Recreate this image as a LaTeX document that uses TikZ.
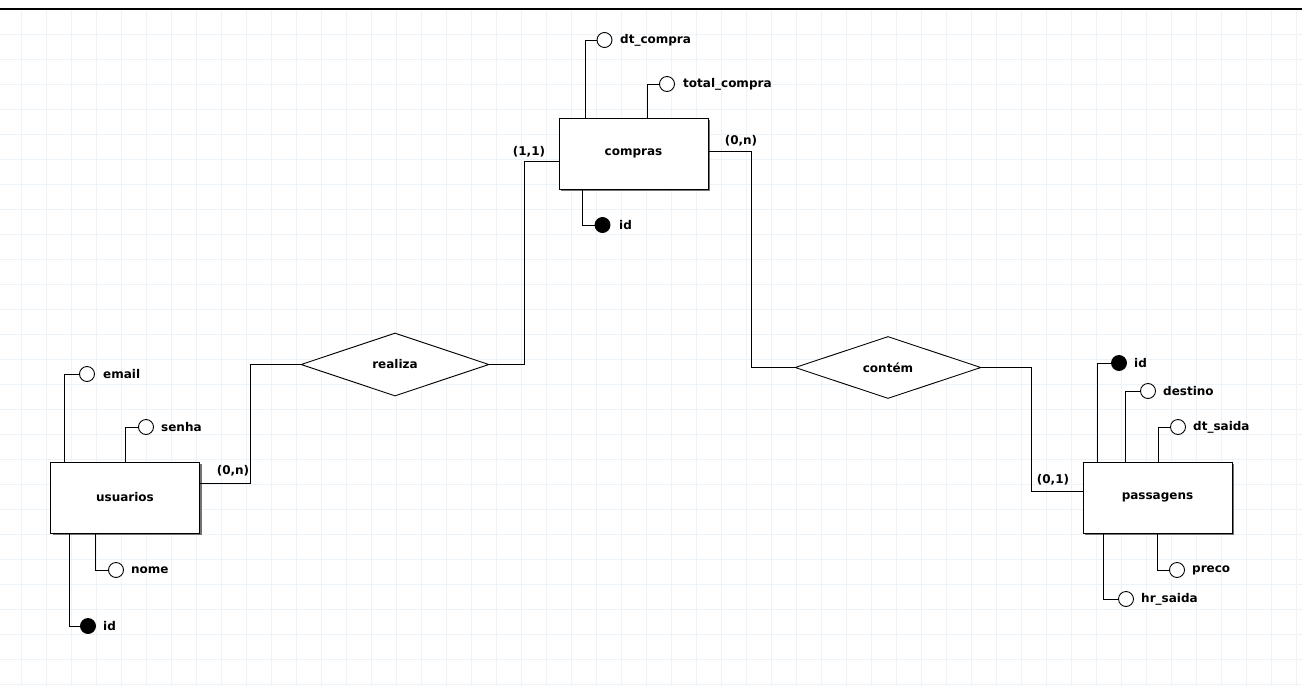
\documentclass[tikz,border=0pt]{standalone}
\usepackage{fontspec}
\setmainfont{DejaVu Sans}
\usetikzlibrary{shapes.geometric,shadows}
\begin{document}
\begin{tikzpicture}[x=1pt,y=-1pt,
  every node/.style={font=\bfseries\fontsize{12}{14}\selectfont},
  entity/.style={draw=black,line width=1pt,fill=white,minimum width=149pt,minimum height=71pt,inner sep=0pt,
    drop shadow={shadow xshift=2pt,shadow yshift=-2pt,opacity=1,fill=black!55}},
  relation/.style={draw=black,line width=0.9pt,fill=white,diamond,aspect=3,inner sep=0pt},
  attr/.style={circle,draw=black,line width=0.9pt,fill=white,minimum size=15pt,inner sep=0pt},
  keyattr/.style={circle,draw=black,line width=0.9pt,fill=black,minimum size=15pt,inner sep=0pt},
  label/.style={anchor=west,inner sep=0pt},
  card/.style={inner sep=0pt},
  link/.style={draw=black,line width=0.9pt}]
\useasboundingbox (0,0) rectangle (1302,686);
% background grid
\fill[white] (0,0) rectangle (1302,686);
\foreach \gx in {21,46,...,1302} \draw[line width=0.8pt,color={rgb,255:red,236;green,243;blue,249}] (\gx,10) -- (\gx,686);
\foreach \gy in {34,59,...,686} \draw[line width=0.8pt,color={rgb,255:red,236;green,243;blue,249}] (0,\gy) -- (1302,\gy);
\draw[line width=1.6pt,black] (0,9) -- (1302,9);

% entities
\node[entity] (compras) at (633.5,153.5) {compras};
\node[entity] (usuarios) at (125,497.5) {usuarios};
\node[entity] (passagens) at (1157.5,497.5) {passagens};

% relationships
\node[relation,minimum width=188pt,minimum height=63pt] (realiza) at (395,364.5) {realiza};
\node[relation,minimum width=186pt,minimum height=62pt] (contem) at (888,367.5) {contém};

% compras attributes
\node[attr] (cdt) at (604.5,40) {};
\node[label] (cdtl) at (620,40) {dt\_compra};
\node[attr] (ctot) at (667,84) {};
\node[label] (ctotl) at (683,84) {total\_compra};
\node[keyattr] (cid) at (602.5,225) {};
\node[label] (cidl) at (619,225) {id};
\draw[link] (585,118) |- (cdt.west);
\draw[link] (647,118) |- (ctot.west);
\draw[link] (582,189) |- (cid.west);

% usuarios attributes
\node[attr] (uem) at (87,374) {};
\node[label] (ueml) at (103,374) {email};
\node[attr] (use) at (146,427) {};
\node[label] (usel) at (161,427) {senha};
\node[attr] (uno) at (116,570) {};
\node[label] (unol) at (131,570) {nome};
\node[keyattr] (uid) at (88,626) {};
\node[label] (uidl) at (103,626) {id};
\draw[link] (64,462) |- (uem.west);
\draw[link] (125.5,462) |- (use.west);
\draw[link] (95.5,533) |- (uno.west);
\draw[link] (69,533) |- (uid.west);

% passagens attributes
\node[keyattr] (pid) at (1119,363) {};
\node[label] (pidl) at (1134,363) {id};
\node[attr] (pde) at (1148,391) {};
\node[label] (pdel) at (1163,391) {destino};
\node[attr] (pdt) at (1178,427) {};
\node[label] (pdtl) at (1193,427) {dt\_saida};
\node[attr] (ppr) at (1177,570) {};
\node[label] (pprl) at (1192,570) {preco};
\node[attr] (phr) at (1126,599) {};
\node[label] (phrl) at (1141,599) {hr\_saida};
\draw[link] (1097,462) |- (pid.west);
\draw[link] (1125.5,462) |- (pde.west);
\draw[link] (1158,462) |- (pdt.west);
\draw[link] (1157,533) |- (ppr.west);
\draw[link] (1103,533) |- (phr.west);

% relationship connectors
\draw[link] (compras.west |- 0,161) -- (524,161) |- (realiza.east);
\draw[link] (realiza.west) -- (250,364.5) |- (usuarios.east |- 0,483);
\draw[link] (compras.east |- 0,151) -- (751,151) |- (contem.west);
\draw[link] (contem.east) -- (1031,367.5) |- (passagens.west |- 0,491);

% cardinalities
\node[card] (c11) at (529,152) {(1,1)};
\node[card] (c0n) at (741,141) {(0,n)};
\node[card] (u0n) at (233,471) {(0,n)};
\node[card] (p01) at (1053,480) {(0,1)};
\end{tikzpicture}
\end{document}
